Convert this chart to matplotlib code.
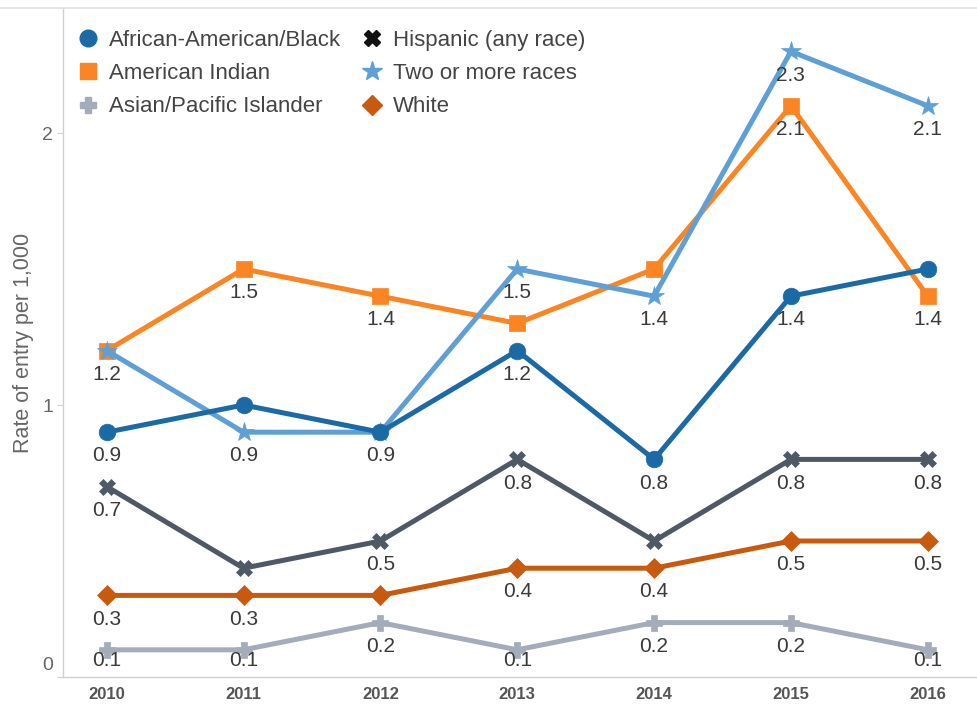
import matplotlib
matplotlib.use('Agg')
import matplotlib.pyplot as plt
from matplotlib.lines import Line2D
from matplotlib.transforms import ScaledTranslation

plt.rcParams['font.family'] = ['Liberation Sans', 'DejaVu Sans']

years = ['2010', '2011', '2012', '2013', '2014', '2015', '2016']
black = [0.9, 1.0, 0.9, 1.2, 0.8, 1.4, 1.5]
american_indian = [1.2, 1.5, 1.4, 1.3, 1.5, 2.1, 1.4]
asian = [0.1, 0.1, 0.2, 0.1, 0.2, 0.2, 0.1]
hispanic = [0.7, 0.4, 0.5, 0.8, 0.5, 0.8, 0.8]
two_more = [1.2, 0.9, 0.9, 1.5, 1.4, 2.3, 2.1]
white = [0.3, 0.3, 0.3, 0.4, 0.4, 0.5, 0.5]

names = ['African-American/Black', 'American Indian', 'Asian/Pacific Islander',
         'Hispanic (any race)', 'Two or more races', 'White']

# which points carry a value label
black_lab = [0, 2, 3, 4, 5]
ai_lab = [0, 1, 2, 5, 6]
asian_lab = [0, 1, 2, 3, 4, 5, 6]
hisp_lab = [0, 2, 3, 5, 6]
two_lab = [1, 3, 4, 5, 6]
white_lab = [0, 1, 3, 4, 5, 6]

series = [
    (names[2], asian, asian_lab, '#a4acba', 'P', 12, '#a4acba'),
    (names[5], white, white_lab, '#c85a10', 'D', 10, '#c85a10'),
    (names[3], hispanic, hisp_lab, '#4f5865', 'X', 11, '#111111'),
    (names[1], american_indian, ai_lab, '#fb8522', 's', 11, '#fb8522'),
    (names[4], two_more, two_lab, '#5ea0d6', '*', 15, '#5ea0d6'),
    (names[0], black, black_lab, '#1b6aa6', 'o', 12, '#1b6aa6'),
]

W, H = 977, 705
fig = plt.figure(figsize=(W / 100, H / 100), dpi=100)
ax = fig.add_axes([63 / W, 1 - 677 / H, (W - 63) / W, (677 - 8) / H])

x = list(range(len(years)))
for name, vals, labs, col, mk, ms, lcol in series:
    ax.plot(x, vals, color=col, lw=3.6, marker=mk, ms=ms, mec=col, mfc=col,
            mew=0.5, solid_joinstyle='miter', zorder=3)
    for i in labs:
        off = -8 if vals[i] <= 0.1 else -17
        ax.annotate(f'{vals[i]:.1f}', (x[i], vals[i]), xytext=(0, off),
                    textcoords='offset points', ha='center', va='center',
                    fontsize=15, color='#3a3a3a', zorder=5)

ax.set_xlim(-0.32, 6.36)
ax.set_ylim(0, (677 - 8) / 272)

for s in ['top', 'right']:
    ax.spines[s].set_visible(False)
ax.spines['left'].set_color('#d0d0d0')
ax.spines['bottom'].set_color('#d0d0d0')
ax.spines['left'].set_linewidth(1.0)
ax.spines['bottom'].set_linewidth(1.0)

ax.set_xticks(x)
ax.set_xticklabels(years, fontsize=12, fontweight='bold', color='#555555')
ax.tick_params(axis='x', length=0, pad=7)
ax.set_yticks([0, 1, 2])
ax.set_yticklabels(['0', '1', '2'], fontsize=14, color='#666666')
ax.tick_params(axis='y', length=4, color='#d0d0d0', pad=3)
lbl0 = ax.get_yticklabels()[0]
lbl0.set_transform(lbl0.get_transform() + ScaledTranslation(0, 0.13, fig.dpi_scale_trans))

ax.set_ylabel('Rate of entry per 1,000', fontsize=15.5, color='#666666', labelpad=6)

# top border line
fig.add_artist(Line2D([0, 1], [1 - 8 / H, 1 - 8 / H], color='#e0e0e0', lw=1.2,
                      transform=fig.transFigure))

handle_map = {n: (mk, ms, lcol) for n, _, _, _, mk, ms, lcol in series}
order = [names[0], names[1], names[2], names[3], names[4], names[5]]
handles = [Line2D([], [], ls='none', marker=handle_map[n][0], ms=handle_map[n][1],
                  color=handle_map[n][2], mec=handle_map[n][2]) for n in order]
leg = ax.legend(handles, order, ncol=2, loc='upper left', bbox_to_anchor=(-0.009, 0.997),
                frameon=False, fontsize=16, handletextpad=0.33, columnspacing=0.8,
                labelspacing=0.55, handlelength=1.2, labelcolor='#444444')

fig.savefig('out.png', dpi=100)
